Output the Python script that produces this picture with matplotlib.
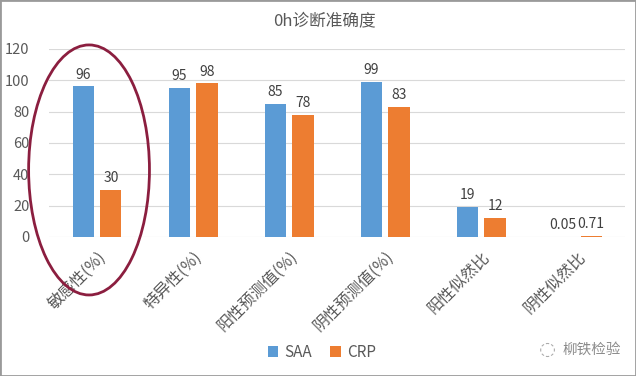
import matplotlib
matplotlib.use("Agg")
import matplotlib.pyplot as plt
import numpy as np
from matplotlib.patches import Ellipse, Rectangle

plt.rcParams['font.family'] = ['Noto Sans CJK SC', 'DejaVu Sans']

categories = ["敏感性(%)", "特异性(%)", "阳性预测值(%)", "阴性预测值(%)", "阳性似然比", "阴性似然比"]
saa = [96, 95, 85, 99, 19, 0.05]
crp = [30, 98, 78, 83, 12, 0.71]
saa_labels = ["96", "95", "85", "99", "19", "0.05"]
crp_labels = ["30", "98", "78", "83", "12", "0.71"]
yticks = [0, 20, 40, 60, 80, 100, 120]

BLUE = "#5B9BD5"
ORANGE = "#ED7D31"
TXT = "#595959"

fig = plt.figure(figsize=(6.36, 3.76), dpi=100)
ax = fig.add_axes([0.077, 0.370, 0.906, 0.500])

x = np.arange(len(categories))
w = 0.22
off = 0.145
b1 = ax.bar(x - off, saa, w, color=BLUE, label="SAA", zorder=3)
b2 = ax.bar(x + off, crp, w, color=ORANGE, label="CRP", zorder=3)

for xi, v, s in zip(x, saa, saa_labels):
    ax.text(xi - off, v + 3, s, ha="center", va="bottom", fontsize=10, color="#404040")
for xi, v, s in zip(x, crp, crp_labels):
    ax.text(xi + off, v + 3, s, ha="center", va="bottom", fontsize=10, color="#404040")

ax.set_xlim(-0.5, len(categories) - 0.5)
ax.set_ylim(0, 120)
ax.set_yticks(yticks)
ax.yaxis.grid(True, color="#D9D9D9", linewidth=0.8, zorder=0)
ax.set_axisbelow(True)
for sp in ax.spines.values():
    sp.set_visible(False)
ax.tick_params(axis="both", length=0, colors=TXT, labelsize=10.5)
ax.tick_params(axis="y", pad=14)
ax.tick_params(axis="x", pad=8)
ax.set_xticks(x)
ax.set_xticklabels(categories, rotation=45, ha="right", rotation_mode="anchor",
                   fontsize=11.5, color=TXT)

fig.text(0.51, 0.945, "0h诊断准确度", ha="center", va="center", fontsize=12, color=TXT)

# red ellipse around first group
ell = Ellipse((0.14, 0.548), 0.19, 0.665, transform=fig.transFigure,
              fill=False, edgecolor="#8B1E3F", linewidth=2)
fig.add_artist(ell)

ax.legend(handles=[b1, b2], loc="center", bbox_to_anchor=(0.506, 0.063),
          bbox_transform=fig.transFigure, ncol=2, frameon=False, fontsize=11,
          handlelength=0.7, handleheight=0.7, handletextpad=0.4, columnspacing=1.2,
          labelcolor=TXT)

fig.text(0.93, 0.07, "柳铁检验", ha="center", va="center", fontsize=10.5, color="#8C8C8C")
fig.text(0.86, 0.07, "◌", ha="center", va="center", fontsize=14, color="#AAAAAA",
         family=['DejaVu Sans'])

fig.add_artist(Rectangle((0, 0), 1, 1, transform=fig.transFigure, fill=False,
                         edgecolor="#9A9A9A", linewidth=2))

fig.savefig("out.png", dpi=100)
